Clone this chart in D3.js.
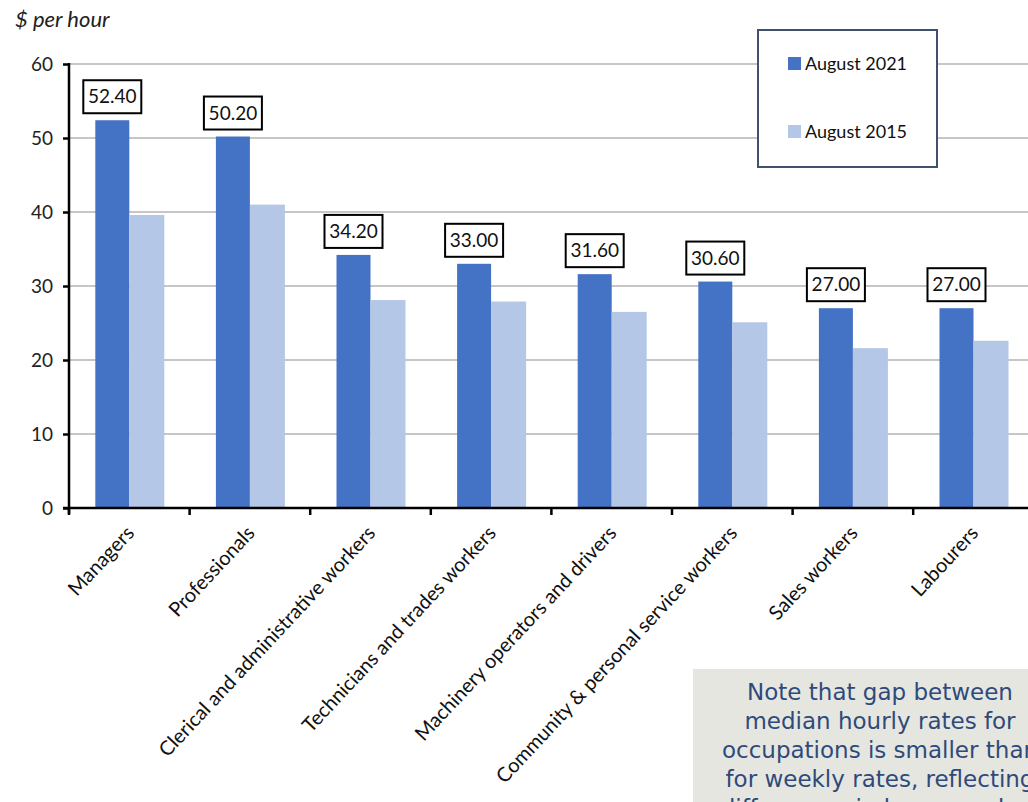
<!DOCTYPE html>
<html><head><meta charset="utf-8">
<script src="https://cdn.jsdelivr.net/npm/d3@7"></script>
<style>
body{margin:0;background:#fff;}
svg{display:block;}
</style></head>
<body>
<svg id="chart" width="1028" height="802"></svg>
<script>
const categories = ["Managers","Professionals","Clerical and administrative workers","Technicians and trades workers","Machinery operators and drivers","Community & personal service workers","Sales workers","Labourers"];
const aug2021 = [52.40,50.20,34.20,33.00,31.60,30.60,27.00,27.00];
const aug2015 = [39.6,41.0,28.1,27.9,26.5,25.1,21.6,22.6];
const seriesNames = ["August 2021","August 2015"];
const yTicks = [0,10,20,30,40,50,60];
const noteLines = ["Note that gap between","median hourly rates for","occupations is smaller than","for weekly rates, reflecting","differences in hours worked"];

const svg = d3.select("#chart");
const font = "Lato, 'Liberation Sans', sans-serif";
const c2021 = "#4472c4", c2015 = "#b4c7e7";

const x = d3.scaleBand().domain(categories).range([69, 69 + 8*120.6]).padding(0);
const y = d3.scaleLinear().domain([0,60]).range([508,64]);
const bw = 34;

// gridlines
svg.append("g").selectAll("line").data(yTicks.filter(d=>d>0)).join("line")
  .attr("x1",69).attr("x2",1028).attr("y1",d=>y(d)).attr("y2",d=>y(d))
  .attr("stroke","#b3b3b3").attr("stroke-width",1.5);

// bars
const g = svg.append("g");
g.selectAll("rect.a").data(categories).join("rect").attr("class","a")
  .attr("x",d=>x(d)+x.bandwidth()/2-bw).attr("width",bw)
  .attr("y",(d,i)=>y(aug2021[i])).attr("height",(d,i)=>y(0)-y(aug2021[i]))
  .attr("fill",c2021);
g.selectAll("rect.b").data(categories).join("rect").attr("class","b")
  .attr("x",d=>x(d)+x.bandwidth()/2).attr("width",bw+1)
  .attr("y",(d,i)=>y(aug2015[i])).attr("height",(d,i)=>y(0)-y(aug2015[i]))
  .attr("fill",c2015);

// y axis
const yAxis = d3.axisLeft(y).tickValues(yTicks).tickSize(6).tickPadding(10);
const ya = svg.append("g").attr("transform","translate(69,0)").call(yAxis);
ya.select(".domain").attr("stroke","#000").attr("stroke-width",2.5).attr("d","M0,"+(y(60)-1)+"V"+(y(0)+6));
ya.selectAll(".tick line").attr("stroke","#000").attr("stroke-width",2.5);
ya.selectAll(".tick text").attr("font-family",font).attr("font-size",19).attr("fill","#222");

// x axis
const xa = svg.append("g").attr("transform","translate(0,508)");
xa.append("line").attr("x1",63).attr("x2",1028).attr("y1",0).attr("y2",0).attr("stroke","#000").attr("stroke-width",2.5);
xa.selectAll("line.t").data(categories).join("line").attr("class","t")
  .attr("x1",d=>x(d)).attr("x2",d=>x(d)).attr("y1",0).attr("y2",7)
  .attr("stroke","#000").attr("stroke-width",2.5);
xa.selectAll("text").data(categories).join("text")
  .attr("transform",d=>`translate(${x(d)+x.bandwidth()/2+6},${26}) rotate(-47)`)
  .attr("text-anchor","end").attr("font-family",font).attr("font-size",20).attr("fill","#111")
  .text(d=>d);

// value labels
const lab = svg.append("g");
categories.forEach((c,i)=>{
  const cx = x(c)+x.bandwidth()/2-bw/2;
  const top = y(aug2021[i]) - 7;
  lab.append("rect").attr("x",cx-29).attr("y",top-33).attr("width",58).attr("height",33)
    .attr("fill","#fff").attr("stroke","#000").attr("stroke-width",2);
  lab.append("text").attr("x",cx).attr("y",top-10).attr("text-anchor","middle")
    .attr("font-family",font).attr("font-size",19).attr("fill","#111").text(aug2021[i].toFixed(2));
});

// y title
svg.append("text").attr("x",15).attr("y",27).attr("font-family",font).attr("font-style","italic")
  .attr("font-size",22).attr("fill","#222").text("$ per hour");

// legend
const lg = svg.append("g");
lg.append("rect").attr("x",758).attr("y",30).attr("width",179).attr("height",137)
  .attr("fill","#fff").attr("stroke","#3f5070").attr("stroke-width",2);
seriesNames.forEach((s,i)=>{
  const yy = [64,132][i];
  lg.append("rect").attr("x",788).attr("y",yy-7).attr("width",13).attr("height",13).attr("fill",[c2021,c2015][i]);
  lg.append("text").attr("x",805).attr("y",yy+6).attr("font-family",font).attr("font-size",18).attr("fill","#111").text(s);
});

// note box
const nb = svg.append("g");
nb.append("rect").attr("x",693).attr("y",669).attr("width",340).attr("height",140).attr("fill","#e6e6e1");
noteLines.forEach((t,i)=>{
  nb.append("text").attr("x",880).attr("y",700+i*29).attr("text-anchor","middle")
    .attr("font-family","'DejaVu Sans', sans-serif").attr("font-size",23).attr("fill","#2f4a7a").text(t);
});
</script>
</body></html>
